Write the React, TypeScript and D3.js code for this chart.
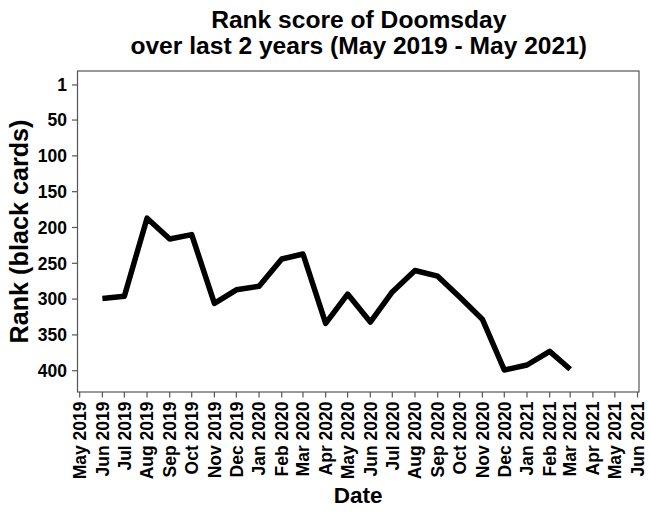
import React from "react";
import * as d3 from "d3";

const months: string[] = [
  "2019-06", "2019-07", "2019-08", "2019-09", "2019-10", "2019-11", "2019-12",
  "2020-01", "2020-02", "2020-03", "2020-04", "2020-05", "2020-06", "2020-07",
  "2020-08", "2020-09", "2020-10", "2020-11", "2020-12", "2021-01", "2021-02", "2021-03",
];
const ranks: number[] = [
  299, 296, 187, 216, 210, 306, 287, 282, 244, 237, 334, 293, 332, 290,
  260, 268, 297, 328, 399, 392, 373, 398,
];
const yTicks: number[] = [1, 50, 100, 150, 200, 250, 300, 350, 400];
const xTickStart = "2019-05";
const xTickEnd = "2021-06";
const titleLines: string[] = ["Rank score of Doomsday", "over last 2 years (May 2019 - May 2021)"];
const xLabel = "Date";
const yLabel = "Rank (black cards)";

const parse = d3.timeParse("%Y-%m");
const fmt = d3.timeFormat("%b %Y");

const W = 650;
const H = 520;
const left = 77.5;
const right = 639;
const top = 71;
const bottom = 392;
const FONT = "'Liberation Sans', Arial, Helvetica, sans-serif";

export default function App() {
  const t0 = parse(xTickStart)!;
  const t1 = parse(xTickEnd)!;
  const xTicks = d3.timeMonth.range(t0, d3.timeMonth.offset(t1, 1));
  const x = d3
    .scaleTime()
    .domain([d3.timeDay.offset(t0, -2.4), d3.timeDay.offset(t1, 2.3)])
    .range([left, right]);
  const y = d3.scaleLinear().domain([-18.5, 429.7]).range([top, bottom]);

  const data = months.map((m, i) => ({ d: parse(m)!, v: ranks[i] }));
  const line = d3
    .line<{ d: Date; v: number }>()
    .x((p) => x(p.d))
    .y((p) => y(p.v));

  const cx = (left + right) / 2;
  const cy = (top + bottom) / 2;
  const tickColor = "#555";

  return (
    <svg width={W} height={H} style={{ display: "block", position: "absolute", left: 0, top: 0 }} fontFamily={FONT}>
      <rect x={0} y={0} width={W} height={H} fill="#fff" />
      {titleLines.map((t, i) => (
        <text key={i} x={cx + 0.5} y={27.5 + i * 26.8} textAnchor="middle" fontSize={24.6} fontWeight="bold" fill="#000">
          {t}
        </text>
      ))}
      <path d={line(data) || ""} fill="none" stroke="#000" strokeWidth={5.5} strokeLinejoin="round" strokeLinecap="butt" />
      <rect x={left} y={top} width={right - left} height={bottom - top} fill="none" stroke={tickColor} strokeWidth={1.2} />
      {yTicks.map((v) => (
        <g key={v}>
          <line x1={left - 5.5} x2={left} y1={y(v)} y2={y(v)} stroke={tickColor} strokeWidth={1.2} />
          <text x={left - 10.5} y={y(v)} dy="0.36em" textAnchor="end" fontSize={17.5} fontWeight="bold" fill="#000">
            {v}
          </text>
        </g>
      ))}
      {xTicks.map((d, i) => (
        <g key={i}>
          <line x1={x(d)} x2={x(d)} y1={bottom} y2={bottom + 5.5} stroke={tickColor} strokeWidth={1.2} />
          <text
            transform={`translate(${x(d)},${bottom + 9.5}) rotate(-90)`}
            dy="0.36em"
            textAnchor="end"
            fontSize={17.5}
            fontWeight="bold"
            fill="#000"
          >
            {fmt(d)}
          </text>
        </g>
      ))}
      <text x={cx} y={503} textAnchor="middle" fontSize={22.5} fontWeight="bold" fill="#000">
        {xLabel}
      </text>
      <text transform={`translate(28,${cy}) rotate(-90)`} textAnchor="middle" fontSize={25.2} fontWeight="bold" fill="#000">
        {yLabel}
      </text>
    </svg>
  );
}
